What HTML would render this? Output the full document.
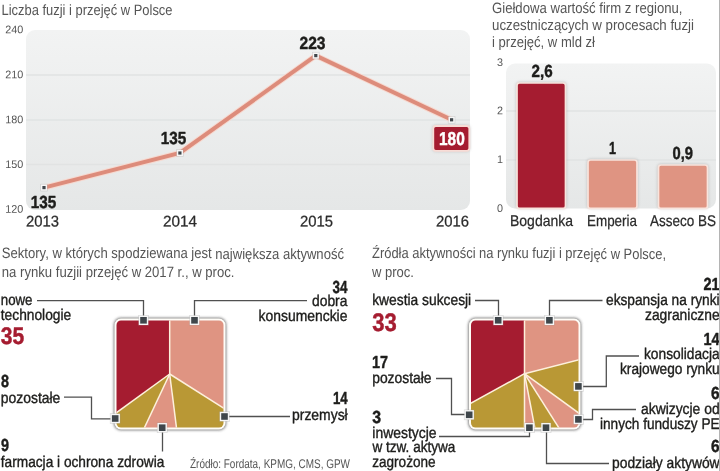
<!DOCTYPE html>
<html lang="pl"><head><meta charset="utf-8"><title>Fuzje i przejęcia</title>
<style>
html,body{margin:0;padding:0;background:#fff;}
body{width:720px;height:471px;overflow:hidden;font-family:"Liberation Sans",sans-serif;}
svg{display:block;will-change:transform;font-family:"Liberation Sans",sans-serif;}
</style></head><body>
<svg width="720" height="471" viewBox="0 0 720 471">
<rect width="720" height="471" fill="#fff"/>
<defs>
<linearGradient id="pg" x1="0" y1="0" x2="0" y2="1"><stop offset="0" stop-color="#f2f3f3"/><stop offset="1" stop-color="#e5e7e7"/></linearGradient>
<filter id="sh" x="-15%" y="-15%" width="130%" height="130%"><feGaussianBlur stdDeviation="1.4"/></filter>
</defs>
<rect x="26" y="30" width="444" height="180" rx="9" ry="9" fill="url(#pg)"/>
<line x1="26" y1="75" x2="470" y2="75" stroke="#e1e3e3" stroke-width="1.3"/>
<line x1="26" y1="120" x2="470" y2="120" stroke="#e1e3e3" stroke-width="1.3"/>
<line x1="26" y1="164.5" x2="470" y2="164.5" stroke="#e1e3e3" stroke-width="1.3"/>
<polyline points="44,187.6 179.9,153 315.8,55.6 451.6,119.8" fill="none" stroke="#f6d9d0" stroke-width="6" stroke-linejoin="miter"/>
<polyline points="44,187.6 179.9,153 315.8,55.6 451.6,119.8" fill="none" stroke="#dd8c7b" stroke-width="4" stroke-linejoin="miter"/>
<rect x="40.3" y="183.9" width="7.4" height="7.4" fill="#9a9a9a" opacity="0.35"/>
<rect x="40.9" y="184.5" width="6.2" height="6.2" fill="#f6f6f6"/>
<rect x="42.4" y="186.0" width="3.2" height="3.2" fill="#3f464b"/>
<rect x="176.20000000000002" y="149.3" width="7.4" height="7.4" fill="#9a9a9a" opacity="0.35"/>
<rect x="176.8" y="149.9" width="6.2" height="6.2" fill="#f6f6f6"/>
<rect x="178.3" y="151.4" width="3.2" height="3.2" fill="#3f464b"/>
<rect x="312.09999999999997" y="51.9" width="7.4" height="7.4" fill="#9a9a9a" opacity="0.35"/>
<rect x="312.7" y="52.5" width="6.2" height="6.2" fill="#f6f6f6"/>
<rect x="314.2" y="54.0" width="3.2" height="3.2" fill="#3f464b"/>
<rect x="447.9" y="116.10000000000001" width="7.4" height="7.4" fill="#9a9a9a" opacity="0.35"/>
<rect x="448.5" y="116.7" width="6.2" height="6.2" fill="#f6f6f6"/>
<rect x="450.0" y="118.2" width="3.2" height="3.2" fill="#3f464b"/>
<text x="5.2" y="33.3" font-size="11" font-weight="normal" fill="#555" textLength="18.0" lengthAdjust="spacingAndGlyphs" transform="rotate(0.03 5.2 33.3)">240</text>
<text x="5.2" y="78.2" font-size="11" font-weight="normal" fill="#555" textLength="18.0" lengthAdjust="spacingAndGlyphs" transform="rotate(0.03 5.2 78.2)">210</text>
<text x="5.2" y="123.2" font-size="11" font-weight="normal" fill="#555" textLength="18.0" lengthAdjust="spacingAndGlyphs" transform="rotate(0.03 5.2 123.2)">180</text>
<text x="5.2" y="167.9" font-size="11" font-weight="normal" fill="#555" textLength="18.0" lengthAdjust="spacingAndGlyphs" transform="rotate(0.03 5.2 167.9)">150</text>
<text x="5.2" y="212.8" font-size="11" font-weight="normal" fill="#555" textLength="18.0" lengthAdjust="spacingAndGlyphs" transform="rotate(0.03 5.2 212.8)">120</text>
<text x="26" y="226.4" font-size="15.5" font-weight="normal" fill="#2b2b2b" stroke="#2b2b2b" stroke-width="0.25" textLength="33" lengthAdjust="spacingAndGlyphs" transform="rotate(0.03 26 226.4)">2013</text>
<text x="163" y="226.4" font-size="15.5" font-weight="normal" fill="#2b2b2b" stroke="#2b2b2b" stroke-width="0.25" textLength="34" lengthAdjust="spacingAndGlyphs" transform="rotate(0.03 163 226.4)">2014</text>
<text x="300" y="226.4" font-size="15.5" font-weight="normal" fill="#2b2b2b" stroke="#2b2b2b" stroke-width="0.25" textLength="33" lengthAdjust="spacingAndGlyphs" transform="rotate(0.03 300 226.4)">2015</text>
<text x="436" y="226.4" font-size="15.5" font-weight="normal" fill="#2b2b2b" stroke="#2b2b2b" stroke-width="0.25" textLength="33" lengthAdjust="spacingAndGlyphs" transform="rotate(0.03 436 226.4)">2016</text>
<text x="30.8" y="207.7" font-size="17.5" font-weight="bold" fill="#1d1d1b" stroke="#1d1d1b" stroke-width="0.45" stroke-linejoin="round" textLength="25.499999999999996" lengthAdjust="spacingAndGlyphs" transform="rotate(0.03 30.8 207.7)">135</text>
<text x="160.8" y="144" font-size="17.5" font-weight="bold" fill="#1d1d1b" stroke="#1d1d1b" stroke-width="0.45" stroke-linejoin="round" textLength="25.5" lengthAdjust="spacingAndGlyphs" transform="rotate(0.03 160.8 144)">135</text>
<text x="299.5" y="49" font-size="17.5" font-weight="bold" fill="#1d1d1b" stroke="#1d1d1b" stroke-width="0.45" stroke-linejoin="round" textLength="26.0" lengthAdjust="spacingAndGlyphs" transform="rotate(0.03 299.5 49)">223</text>
<rect x="432.5" y="125" width="37.5" height="26.5" rx="3.5" fill="#999" opacity="0.5" filter="url(#sh)"/><rect x="433.3" y="126" width="36" height="24.8" rx="2.5" fill="#a51c30" stroke="#f8dcd6" stroke-width="1.8"/>
<text x="439" y="145.2" font-size="18.5" font-weight="bold" fill="#fff" stroke="#fff" stroke-width="0.45" stroke-linejoin="round" textLength="25.69999999999999" lengthAdjust="spacingAndGlyphs" transform="rotate(0.03 439 145.2)">180</text>
<text x="1.5" y="14.6" font-size="15" font-weight="normal" fill="#555555" textLength="171.0" lengthAdjust="spacingAndGlyphs" transform="rotate(0.03 1.5 14.6)">Liczba fuzji i przejęć w Polsce</text>
<rect x="506" y="63.5" width="210" height="145" rx="9" ry="9" fill="url(#pg)"/>
<line x1="506" y1="111" x2="716" y2="111" stroke="#e1e3e3" stroke-width="1.3"/>
<line x1="506" y1="160" x2="716" y2="160" stroke="#e1e3e3" stroke-width="1.3"/>
<rect x="516" y="82" width="50.5" height="126.5" rx="3.5" fill="#8a8a8a" opacity="0.45" filter="url(#sh)"/>
<rect x="517" y="83" width="48.5" height="125.4" rx="2.5" fill="#a51c30" stroke="#f8e4dd" stroke-width="1.7"/>
<rect x="587" y="159" width="51" height="49.5" rx="3.5" fill="#8a8a8a" opacity="0.45" filter="url(#sh)"/>
<rect x="588" y="160" width="49" height="48.400000000000006" rx="2.5" fill="#df9482" stroke="#f8e4dd" stroke-width="1.7"/>
<rect x="657.5" y="164" width="51.0" height="44.5" rx="3.5" fill="#8a8a8a" opacity="0.45" filter="url(#sh)"/>
<rect x="658.5" y="165" width="49.0" height="43.400000000000006" rx="2.5" fill="#df9482" stroke="#f8e4dd" stroke-width="1.7"/>
<text x="497" y="66" font-size="11" font-weight="normal" fill="#555" textLength="6" lengthAdjust="spacingAndGlyphs" transform="rotate(0.03 497 66)">3</text>
<text x="497" y="114.2" font-size="11" font-weight="normal" fill="#555" textLength="6" lengthAdjust="spacingAndGlyphs" transform="rotate(0.03 497 114.2)">2</text>
<text x="497" y="163" font-size="11" font-weight="normal" fill="#555" textLength="6" lengthAdjust="spacingAndGlyphs" transform="rotate(0.03 497 163)">1</text>
<text x="497" y="211.9" font-size="11" font-weight="normal" fill="#555" textLength="6" lengthAdjust="spacingAndGlyphs" transform="rotate(0.03 497 211.9)">0</text>
<text x="510" y="226" font-size="15.5" font-weight="normal" fill="#2b2b2b" stroke="#2b2b2b" stroke-width="0.25" textLength="63" lengthAdjust="spacingAndGlyphs" transform="rotate(0.03 510 226)">Bogdanka</text>
<text x="587" y="226" font-size="15.5" font-weight="normal" fill="#2b2b2b" stroke="#2b2b2b" stroke-width="0.25" textLength="50" lengthAdjust="spacingAndGlyphs" transform="rotate(0.03 587 226)">Emperia</text>
<text x="650" y="226" font-size="15.5" font-weight="normal" fill="#2b2b2b" stroke="#2b2b2b" stroke-width="0.25" textLength="66" lengthAdjust="spacingAndGlyphs" transform="rotate(0.03 650 226)">Asseco BS</text>
<text x="531.5" y="76.5" font-size="17.5" font-weight="bold" fill="#1d1d1b" stroke="#1d1d1b" stroke-width="0.45" stroke-linejoin="round" textLength="21.100000000000023" lengthAdjust="spacingAndGlyphs" transform="rotate(0.03 531.5 76.5)">2,6</text>
<text x="609" y="153.5" font-size="17.5" font-weight="bold" fill="#1d1d1b" stroke="#1d1d1b" stroke-width="0.45" stroke-linejoin="round" textLength="7" lengthAdjust="spacingAndGlyphs" transform="rotate(0.03 609 153.5)">1</text>
<text x="672.5" y="159" font-size="17.5" font-weight="bold" fill="#1d1d1b" stroke="#1d1d1b" stroke-width="0.45" stroke-linejoin="round" textLength="20.5" lengthAdjust="spacingAndGlyphs" transform="rotate(0.03 672.5 159)">0,9</text>
<text x="492" y="12.8" font-size="15" font-weight="normal" fill="#555555" textLength="190.5" lengthAdjust="spacingAndGlyphs" transform="rotate(0.03 492 12.8)">Giełdowa wartość firm z regionu,</text>
<text x="492" y="30.4" font-size="15" font-weight="normal" fill="#555555" textLength="202" lengthAdjust="spacingAndGlyphs" transform="rotate(0.03 492 30.4)">uczestniczących w procesach fuzji</text>
<text x="492" y="47.3" font-size="15" font-weight="normal" fill="#555555" textLength="103" lengthAdjust="spacingAndGlyphs" transform="rotate(0.03 492 47.3)">i przejęć, w mld zł</text>
<text x="1.8" y="258.4" font-size="15" font-weight="normal" fill="#555555" textLength="342.2" lengthAdjust="spacingAndGlyphs" transform="rotate(0.03 1.8 258.4)">Sektory, w których spodziewana jest największa aktywność</text>
<text x="1.8" y="276.5" font-size="15" font-weight="normal" fill="#555555" textLength="232.7" lengthAdjust="spacingAndGlyphs" transform="rotate(0.03 1.8 276.5)">na rynku fuzjii przejęć w 2017 r., w proc.</text>
<clipPath id="c1"><rect x="116.5" y="320.5" width="107.0" height="107.0" rx="4.5" ry="4.5"/></clipPath>
<rect x="114.0" y="318.0" width="112.0" height="112.0" rx="7" ry="7" fill="#4a4a4a" opacity="0.85" filter="url(#sh)"/>
<rect x="114.5" y="318.5" width="111.0" height="111.0" rx="6.5" ry="6.5" fill="#fffdf8"/>
<g clip-path="url(#c1)">
<polygon points="169.70,374.00 169.70,174.00 205.12,177.16 239.41,186.54 271.51,201.85 300.38,222.60 325.13,248.14 344.96,277.65 359.25,310.21 367.55,344.78 369.60,380.28 365.33,415.58 354.87,449.57 338.57,481.17" fill="#df9482"/>
<polygon points="169.70,374.00 338.57,481.17 321.10,504.68 300.38,525.40 276.87,542.87 251.05,556.71 223.48,566.63 194.77,572.42" fill="#b99835"/>
<polygon points="169.70,374.00 194.77,572.42 166.56,573.98 138.41,571.54 110.89,565.16 84.54,554.97" fill="#df9482"/>
<polygon points="169.70,374.00 84.54,554.97 62.53,542.87 42.22,528.10 23.91,510.91 7.90,491.56" fill="#b99835"/>
<polygon points="169.70,374.00 7.90,491.56 -10.82,460.10 -23.49,425.76 -29.68,389.69 -29.20,353.09 -22.06,317.20 -8.50,283.20 11.03,252.25 35.87,225.37 65.20,203.47 98.03,187.28 133.25,177.35 169.70,174.00" fill="#a51c30"/>
<line x1="169.7" y1="374" x2="169.70" y2="174.00" stroke="#fdf0dc" stroke-width="1.5"/>
<line x1="169.7" y1="374" x2="338.57" y2="481.17" stroke="#fdf0dc" stroke-width="1.5"/>
<line x1="169.7" y1="374" x2="194.77" y2="572.42" stroke="#fdf0dc" stroke-width="1.5"/>
<line x1="169.7" y1="374" x2="84.54" y2="554.97" stroke="#fdf0dc" stroke-width="1.5"/>
<line x1="169.7" y1="374" x2="7.90" y2="491.56" stroke="#fdf0dc" stroke-width="1.5"/>
</g>
<path d="M37 300.7 L143.5 300.7 L143.5 320" fill="none" stroke="#505050" stroke-width="1.3"/>
<path d="M194.5 320 L194.5 300.7 L307 300.7" fill="none" stroke="#505050" stroke-width="1.3"/>
<path d="M64 397.2 L91.5 397.2 L91.5 418.8 L114 418.8" fill="none" stroke="#505050" stroke-width="1.3"/>
<path d="M162.5 428 L162.5 451.5" fill="none" stroke="#505050" stroke-width="1.3"/>
<path d="M224.5 416.5 L290 416.5" fill="none" stroke="#505050" stroke-width="1.3"/>
<rect x="138.20000000000002" y="315.0" width="10.599999999999998" height="10.599999999999998" fill="#9a9a9a" opacity="0.35"/>
<rect x="138.8" y="315.6" width="9.399999999999999" height="9.399999999999999" fill="#f6f6f6"/>
<rect x="140.2" y="317.0" width="6.6" height="6.6" fill="#3f464b"/>
<rect x="189.20000000000002" y="315.0" width="10.599999999999998" height="10.599999999999998" fill="#9a9a9a" opacity="0.35"/>
<rect x="189.8" y="315.6" width="9.399999999999999" height="9.399999999999999" fill="#f6f6f6"/>
<rect x="191.2" y="317.0" width="6.6" height="6.6" fill="#3f464b"/>
<rect x="109.9" y="413.2" width="10.599999999999998" height="10.599999999999998" fill="#9a9a9a" opacity="0.35"/>
<rect x="110.5" y="413.8" width="9.399999999999999" height="9.399999999999999" fill="#f6f6f6"/>
<rect x="111.9" y="415.2" width="6.6" height="6.6" fill="#3f464b"/>
<rect x="156.9" y="422.4" width="10.599999999999998" height="10.599999999999998" fill="#9a9a9a" opacity="0.35"/>
<rect x="157.5" y="423.0" width="9.399999999999999" height="9.399999999999999" fill="#f6f6f6"/>
<rect x="158.89999999999998" y="424.4" width="6.6" height="6.6" fill="#3f464b"/>
<rect x="219.20000000000002" y="411.2" width="10.599999999999998" height="10.599999999999998" fill="#9a9a9a" opacity="0.35"/>
<rect x="219.8" y="411.8" width="9.399999999999999" height="9.399999999999999" fill="#f6f6f6"/>
<rect x="221.2" y="413.2" width="6.6" height="6.6" fill="#3f464b"/>
<text x="0.8" y="305.3" font-size="15.5" font-weight="normal" fill="#1d1d1b" stroke="#1d1d1b" stroke-width="0.38" textLength="31.7" lengthAdjust="spacingAndGlyphs" transform="rotate(0.03 0.8 305.3)">nowe</text>
<text x="0.8" y="320.2" font-size="15.5" font-weight="normal" fill="#1d1d1b" stroke="#1d1d1b" stroke-width="0.38" textLength="70.4" lengthAdjust="spacingAndGlyphs" transform="rotate(0.03 0.8 320.2)">technologie</text>
<text x="0.8" y="344" font-size="24" font-weight="bold" fill="#a51c30" stroke="#a51c30" stroke-width="0.45" stroke-linejoin="round" textLength="23.4" lengthAdjust="spacingAndGlyphs" transform="rotate(0.03 0.8 344)">35</text>
<text x="1" y="387.4" font-size="17.5" font-weight="bold" fill="#1d1d1b" stroke="#1d1d1b" stroke-width="0.45" stroke-linejoin="round" textLength="8" lengthAdjust="spacingAndGlyphs" transform="rotate(0.03 1 387.4)">8</text>
<text x="0.8" y="403.4" font-size="15.5" font-weight="normal" fill="#1d1d1b" stroke="#1d1d1b" stroke-width="0.38" textLength="59.5" lengthAdjust="spacingAndGlyphs" transform="rotate(0.03 0.8 403.4)">pozostałe</text>
<text x="1" y="451.2" font-size="17.5" font-weight="bold" fill="#1d1d1b" stroke="#1d1d1b" stroke-width="0.45" stroke-linejoin="round" textLength="8" lengthAdjust="spacingAndGlyphs" transform="rotate(0.03 1 451.2)">9</text>
<text x="0.8" y="466.8" font-size="15.5" font-weight="normal" fill="#1d1d1b" stroke="#1d1d1b" stroke-width="0.38" textLength="163.5" lengthAdjust="spacingAndGlyphs" transform="rotate(0.03 0.8 466.8)">farmacja i ochrona zdrowia</text>
<text x="332.5" y="292.7" font-size="17.5" font-weight="bold" fill="#1d1d1b" stroke="#1d1d1b" stroke-width="0.45" stroke-linejoin="round" textLength="14.899999999999977" lengthAdjust="spacingAndGlyphs" transform="rotate(0.03 332.5 292.7)">34</text>
<text x="312" y="305.8" font-size="15.5" font-weight="normal" fill="#1d1d1b" stroke="#1d1d1b" stroke-width="0.38" textLength="35.39999999999998" lengthAdjust="spacingAndGlyphs" transform="rotate(0.03 312 305.8)">dobra</text>
<text x="258.6" y="320.5" font-size="15.5" font-weight="normal" fill="#1d1d1b" stroke="#1d1d1b" stroke-width="0.38" textLength="88.79999999999995" lengthAdjust="spacingAndGlyphs" transform="rotate(0.03 258.6 320.5)">konsumenckie</text>
<text x="333" y="404.3" font-size="17.5" font-weight="bold" fill="#1d1d1b" stroke="#1d1d1b" stroke-width="0.45" stroke-linejoin="round" textLength="14.699999999999989" lengthAdjust="spacingAndGlyphs" transform="rotate(0.03 333 404.3)">14</text>
<text x="292" y="420.4" font-size="15.5" font-weight="normal" fill="#1d1d1b" stroke="#1d1d1b" stroke-width="0.38" textLength="55.69999999999999" lengthAdjust="spacingAndGlyphs" transform="rotate(0.03 292 420.4)">przemysł</text>
<text x="190" y="467.6" font-size="12.6" font-weight="normal" fill="#555" textLength="160" lengthAdjust="spacingAndGlyphs" transform="rotate(0.03 190 467.6)">Źródło: Fordata, KPMG, CMS, GPW</text>
<text x="372" y="258.4" font-size="15" font-weight="normal" fill="#555555" textLength="294" lengthAdjust="spacingAndGlyphs" transform="rotate(0.03 372 258.4)">Źródła aktywności na rynku fuzji i przejęć w Polsce,</text>
<text x="372" y="276.5" font-size="15" font-weight="normal" fill="#555555" textLength="42" lengthAdjust="spacingAndGlyphs" transform="rotate(0.03 372 276.5)">w proc.</text>
<clipPath id="c2"><rect x="471" y="320.5" width="107.5" height="107.0" rx="4.5" ry="4.5"/></clipPath>
<rect x="468.5" y="318.0" width="112.5" height="112.0" rx="7" ry="7" fill="#4a4a4a" opacity="0.85" filter="url(#sh)"/>
<rect x="469" y="318.5" width="111.5" height="111.0" rx="6.5" ry="6.5" fill="#fffdf8"/>
<g clip-path="url(#c2)">
<polygon points="524.50,373.70 524.50,173.70 557.34,176.41 589.28,184.48 619.47,197.69 647.08,215.67 671.36,237.94 691.66,263.90 707.42,292.83 718.22,323.96" fill="#df9482"/>
<polygon points="524.50,373.70 718.22,323.96 723.40,352.79 724.32,382.08 720.96,411.18 713.38,439.47 701.74,466.36 686.30,491.26" fill="#b99835"/>
<polygon points="524.50,373.70 686.30,491.26 670.29,510.61 651.98,527.80 631.67,542.57" fill="#df9482"/>
<polygon points="524.50,373.70 631.67,542.57 609.66,554.67 586.30,563.91 561.98,570.16" fill="#b99835"/>
<polygon points="524.50,373.70 561.98,570.16 543.32,572.81 524.50,573.70" fill="#df9482"/>
<polygon points="524.50,373.70 524.50,573.70 494.10,571.38 464.41,564.46 436.11,553.11 409.87,537.59 386.29,518.26 365.92,495.57 349.24,470.05" fill="#b99835"/>
<polygon points="524.50,373.70 349.24,470.05 335.28,438.48 326.96,404.99 324.52,370.56 328.04,336.22 337.41,303.01 352.35,271.89 372.42,243.81 397.02,219.60 425.41,199.97 456.75,185.52 490.11,176.68 524.50,173.70" fill="#a51c30"/>
<line x1="524.5" y1="373.7" x2="524.50" y2="173.70" stroke="#fdf0dc" stroke-width="1.5"/>
<line x1="524.5" y1="373.7" x2="718.22" y2="323.96" stroke="#fdf0dc" stroke-width="1.5"/>
<line x1="524.5" y1="373.7" x2="686.30" y2="491.26" stroke="#fdf0dc" stroke-width="1.5"/>
<line x1="524.5" y1="373.7" x2="631.67" y2="542.57" stroke="#fdf0dc" stroke-width="1.5"/>
<line x1="524.5" y1="373.7" x2="561.98" y2="570.16" stroke="#fdf0dc" stroke-width="1.5"/>
<line x1="524.5" y1="373.7" x2="524.50" y2="573.70" stroke="#fdf0dc" stroke-width="1.5"/>
<line x1="524.5" y1="373.7" x2="349.24" y2="470.05" stroke="#fdf0dc" stroke-width="1.5"/>
</g>
<path d="M475 300.5 L498.5 300.5 L498.5 320" fill="none" stroke="#505050" stroke-width="1.3"/>
<path d="M549.5 320 L549.5 300.5 L602.5 300.5" fill="none" stroke="#505050" stroke-width="1.3"/>
<path d="M578 386.5 L606.3 386.5 L606.3 356 L639 356" fill="none" stroke="#505050" stroke-width="1.3"/>
<path d="M578 419.5 L592.5 419.5 L592.5 409.5 L636 409.5" fill="none" stroke="#505050" stroke-width="1.3"/>
<path d="M546.5 428 L546.5 463.5 L609 463.5" fill="none" stroke="#505050" stroke-width="1.3"/>
<path d="M529.5 428 L529.5 436.5 L439 436.5" fill="none" stroke="#505050" stroke-width="1.3"/>
<path d="M436 378.5 L451.5 378.5 L451.5 414.5 L469.5 414.5" fill="none" stroke="#505050" stroke-width="1.3"/>
<rect x="492.9" y="315.0" width="10.599999999999998" height="10.599999999999998" fill="#9a9a9a" opacity="0.35"/>
<rect x="493.5" y="315.6" width="9.399999999999999" height="9.399999999999999" fill="#f6f6f6"/>
<rect x="494.9" y="317.0" width="6.6" height="6.6" fill="#3f464b"/>
<rect x="544.0999999999999" y="315.0" width="10.599999999999998" height="10.599999999999998" fill="#9a9a9a" opacity="0.35"/>
<rect x="544.6999999999999" y="315.6" width="9.399999999999999" height="9.399999999999999" fill="#f6f6f6"/>
<rect x="546.1" y="317.0" width="6.6" height="6.6" fill="#3f464b"/>
<rect x="573.0999999999999" y="381.09999999999997" width="10.599999999999998" height="10.599999999999998" fill="#9a9a9a" opacity="0.35"/>
<rect x="573.6999999999999" y="381.7" width="9.399999999999999" height="9.399999999999999" fill="#f6f6f6"/>
<rect x="575.1" y="383.09999999999997" width="6.6" height="6.6" fill="#3f464b"/>
<rect x="573.0999999999999" y="414.09999999999997" width="10.599999999999998" height="10.599999999999998" fill="#9a9a9a" opacity="0.35"/>
<rect x="573.6999999999999" y="414.7" width="9.399999999999999" height="9.399999999999999" fill="#f6f6f6"/>
<rect x="575.1" y="416.09999999999997" width="6.6" height="6.6" fill="#3f464b"/>
<rect x="540.6999999999999" y="422.4" width="10.599999999999998" height="10.599999999999998" fill="#9a9a9a" opacity="0.35"/>
<rect x="541.3" y="423.0" width="9.399999999999999" height="9.399999999999999" fill="#f6f6f6"/>
<rect x="542.7" y="424.4" width="6.6" height="6.6" fill="#3f464b"/>
<rect x="524.0999999999999" y="422.4" width="10.599999999999998" height="10.599999999999998" fill="#9a9a9a" opacity="0.35"/>
<rect x="524.6999999999999" y="423.0" width="9.399999999999999" height="9.399999999999999" fill="#f6f6f6"/>
<rect x="526.1" y="424.4" width="6.6" height="6.6" fill="#3f464b"/>
<rect x="463.9" y="409.5" width="10.599999999999998" height="10.599999999999998" fill="#9a9a9a" opacity="0.35"/>
<rect x="464.5" y="410.1" width="9.399999999999999" height="9.399999999999999" fill="#f6f6f6"/>
<rect x="465.9" y="411.5" width="6.6" height="6.6" fill="#3f464b"/>
<text x="372.2" y="305.3" font-size="15.5" font-weight="normal" fill="#1d1d1b" stroke="#1d1d1b" stroke-width="0.38" textLength="99.0" lengthAdjust="spacingAndGlyphs" transform="rotate(0.03 372.2 305.3)">kwestia sukcesji</text>
<text x="372.3" y="330.7" font-size="25.5" font-weight="bold" fill="#a51c30" stroke="#a51c30" stroke-width="0.45" stroke-linejoin="round" textLength="24.5" lengthAdjust="spacingAndGlyphs" transform="rotate(0.03 372.3 330.7)">33</text>
<text x="372" y="367.6" font-size="17.5" font-weight="bold" fill="#1d1d1b" stroke="#1d1d1b" stroke-width="0.45" stroke-linejoin="round" textLength="16" lengthAdjust="spacingAndGlyphs" transform="rotate(0.03 372 367.6)">17</text>
<text x="372.2" y="383.2" font-size="15.5" font-weight="normal" fill="#1d1d1b" stroke="#1d1d1b" stroke-width="0.38" textLength="59.30000000000001" lengthAdjust="spacingAndGlyphs" transform="rotate(0.03 372.2 383.2)">pozostałe</text>
<text x="372.2" y="423.4" font-size="17.5" font-weight="bold" fill="#1d1d1b" stroke="#1d1d1b" stroke-width="0.45" stroke-linejoin="round" textLength="8.800000000000011" lengthAdjust="spacingAndGlyphs" transform="rotate(0.03 372.2 423.4)">3</text>
<text x="372.3" y="437.6" font-size="15.5" font-weight="normal" fill="#1d1d1b" stroke="#1d1d1b" stroke-width="0.38" textLength="64.19999999999999" lengthAdjust="spacingAndGlyphs" transform="rotate(0.03 372.3 437.6)">inwestycje</text>
<text x="372.5" y="452.2" font-size="15.5" font-weight="normal" fill="#1d1d1b" stroke="#1d1d1b" stroke-width="0.38" textLength="82.80000000000001" lengthAdjust="spacingAndGlyphs" transform="rotate(0.03 372.5 452.2)">w tzw. aktywa</text>
<text x="372.3" y="466.8" font-size="15.5" font-weight="normal" fill="#1d1d1b" stroke="#1d1d1b" stroke-width="0.38" textLength="63.19999999999999" lengthAdjust="spacingAndGlyphs" transform="rotate(0.03 372.3 466.8)">zagrożone</text>
<text x="703.5" y="290" font-size="17.5" font-weight="bold" fill="#1d1d1b" stroke="#1d1d1b" stroke-width="0.45" stroke-linejoin="round" textLength="16.100000000000023" lengthAdjust="spacingAndGlyphs" transform="rotate(0.03 703.5 290)">21</text>
<text x="606" y="305.4" font-size="15.5" font-weight="normal" fill="#1d1d1b" stroke="#1d1d1b" stroke-width="0.38" textLength="113.60000000000002" lengthAdjust="spacingAndGlyphs" transform="rotate(0.03 606 305.4)">ekspansja na rynki</text>
<text x="645" y="320.4" font-size="15.5" font-weight="normal" fill="#1d1d1b" stroke="#1d1d1b" stroke-width="0.38" textLength="74.60000000000002" lengthAdjust="spacingAndGlyphs" transform="rotate(0.03 645 320.4)">zagraniczne</text>
<text x="703.5" y="345" font-size="17.5" font-weight="bold" fill="#1d1d1b" stroke="#1d1d1b" stroke-width="0.45" stroke-linejoin="round" textLength="16.100000000000023" lengthAdjust="spacingAndGlyphs" transform="rotate(0.03 703.5 345)">14</text>
<text x="644" y="359.4" font-size="15.5" font-weight="normal" fill="#1d1d1b" stroke="#1d1d1b" stroke-width="0.38" textLength="75.60000000000002" lengthAdjust="spacingAndGlyphs" transform="rotate(0.03 644 359.4)">konsolidacja</text>
<text x="620" y="373.9" font-size="15.5" font-weight="normal" fill="#1d1d1b" stroke="#1d1d1b" stroke-width="0.38" textLength="99.60000000000002" lengthAdjust="spacingAndGlyphs" transform="rotate(0.03 620 373.9)">krajowego rynku</text>
<text x="711" y="399" font-size="17.5" font-weight="bold" fill="#1d1d1b" stroke="#1d1d1b" stroke-width="0.45" stroke-linejoin="round" textLength="8.600000000000023" lengthAdjust="spacingAndGlyphs" transform="rotate(0.03 711 399)">6</text>
<text x="641" y="414.4" font-size="15.5" font-weight="normal" fill="#1d1d1b" stroke="#1d1d1b" stroke-width="0.38" textLength="78.60000000000002" lengthAdjust="spacingAndGlyphs" transform="rotate(0.03 641 414.4)">akwizycje od</text>
<text x="600" y="428.9" font-size="15.5" font-weight="normal" fill="#1d1d1b" stroke="#1d1d1b" stroke-width="0.38" textLength="119.60000000000002" lengthAdjust="spacingAndGlyphs" transform="rotate(0.03 600 428.9)">innych funduszy PE</text>
<text x="711" y="452.2" font-size="17.5" font-weight="bold" fill="#1d1d1b" stroke="#1d1d1b" stroke-width="0.45" stroke-linejoin="round" textLength="8.600000000000023" lengthAdjust="spacingAndGlyphs" transform="rotate(0.03 711 452.2)">6</text>
<text x="612" y="467.7" font-size="15.5" font-weight="normal" fill="#1d1d1b" stroke="#1d1d1b" stroke-width="0.38" textLength="107.60000000000002" lengthAdjust="spacingAndGlyphs" transform="rotate(0.03 612 467.7)">podziały aktywów</text>
<rect x="719" y="0" width="1" height="471" fill="#b4b4b4"/>
</svg>
</body></html>
